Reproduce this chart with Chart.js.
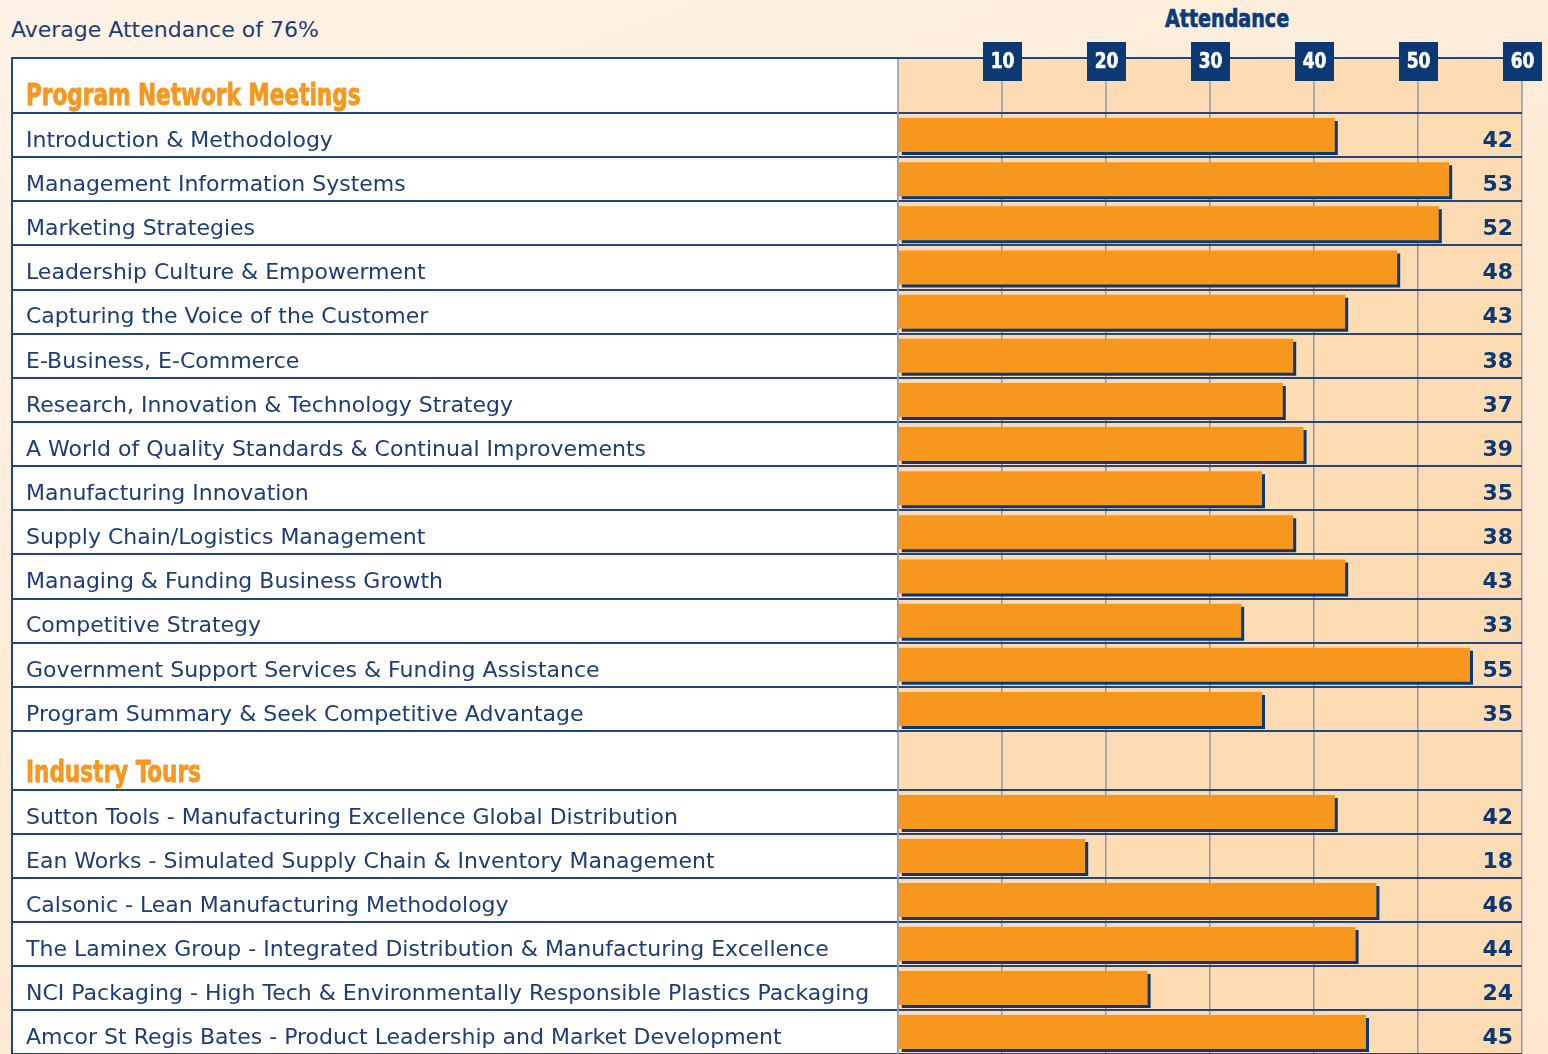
<!DOCTYPE html>
<html>
<head>
<meta charset="utf-8">
<title>Average Attendance</title>
<script src="https://cdn.jsdelivr.net/npm/chart.js@4.4.1/dist/chart.umd.min.js"></script>
<style>
  html, body { margin: 0; padding: 0; }
  body {
    width: 1548px; height: 1054px; overflow: hidden; position: relative;
    background: linear-gradient(160deg, #fef3e7 0%, #fdebd6 45%, #fde7cf 100%);
    font-family: "DejaVu Sans", Verdana, sans-serif;
  }
  #subtitle { position: absolute; left: 11px; top: 17px; font-size: 22px; color: #1c3d78; }
  #axisTitle {
    position: absolute; left: 1165px; top: 4px; color: #0d3a78;
    font: bold 25px "Liberation Sans Narrow", "DejaVu Sans Condensed", sans-serif;
    -webkit-text-stroke: 0.7px #0d3a78;
    transform: scaleX(0.85); transform-origin: left top;
  }
  canvas { position: absolute; left: 0; }
  #programChart { top: 0; }
  #tourChart { top: 731px; }
</style>
</head>
<body>
<div id="subtitle">Average Attendance of 76%</div>
<div id="axisTitle">Attendance</div>
<canvas id="programChart" width="1548" height="731"></canvas>
<canvas id="tourChart" width="1548" height="323"></canvas>
<script>
// data
const programLabels = [
    'Introduction & Methodology',
    'Management Information Systems',
    'Marketing Strategies',
    'Leadership Culture & Empowerment',
    'Capturing the Voice of the Customer',
    'E-Business, E-Commerce',
    'Research, Innovation & Technology Strategy',
    'A World of Quality Standards & Continual Improvements',
    'Manufacturing Innovation',
    'Supply Chain/Logistics Management',
    'Managing & Funding Business Growth',
    'Competitive Strategy',
    'Government Support Services & Funding Assistance',
    'Program Summary & Seek Competitive Advantage'
];
const programValues = [42, 53, 52, 48, 43, 38, 37, 39, 35, 38, 43, 33, 55, 35];

const tourLabels = [
    'Sutton Tools - Manufacturing Excellence Global Distribution',
    'Ean Works - Simulated Supply Chain & Inventory Management',
    'Calsonic - Lean Manufacturing Methodology',
    'The Laminex Group - Integrated Distribution & Manufacturing Excellence',
    'NCI Packaging - High Tech & Environmentally Responsible Plastics Packaging',
    'Amcor St Regis Bates - Product Leadership and Market Development'
];
const tourValues = [42, 18, 46, 44, 24, 45];

const axisMin = 0;
const axisMax = 60;
const axisStep = 10;

// styles
const NAVY = '#0c3874';
const TEXT = '#1c3d78';
const ORANGE = '#f7971e';
const PLOT_BG = '#fddcb4';
const GRID = '#8e98b1';
const ROW_LINE = '#22457f';
const TABLE_LEFT = 11;
const LABEL_FONT = '"DejaVu Sans", Verdana, sans-serif';
const NARROW_FONT = '"Liberation Sans Narrow", "DejaVu Sans Condensed", sans-serif';

// table frame, header row, tick boxes
function tablePlugin(title, headerTop, showTickBoxes) {
    return {
        id: 'tableFrame',
        beforeDraw(chart) {
            const { ctx, chartArea, scales: { x } } = chart;
            ctx.save();
            ctx.fillStyle = '#ffffff';
            ctx.fillRect(TABLE_LEFT, headerTop, chartArea.left - TABLE_LEFT, chartArea.bottom - headerTop);
            ctx.fillStyle = PLOT_BG;
            ctx.fillRect(chartArea.left, headerTop, chartArea.right - chartArea.left, chartArea.bottom - headerTop);
            // grid lines carried up through the header row
            ctx.strokeStyle = GRID;
            ctx.lineWidth = 1.5;
            x.ticks.forEach(t => {
                const px = x.getPixelForValue(t.value);
                ctx.beginPath();
                ctx.moveTo(px, headerTop);
                ctx.lineTo(px, chartArea.top);
                ctx.stroke();
            });
            ctx.restore();
        },
        afterDraw(chart) {
            const { ctx, chartArea, scales: { x } } = chart;
            ctx.save();
            ctx.strokeStyle = ROW_LINE;
            ctx.lineWidth = 2;
            ctx.beginPath();
            ctx.moveTo(TABLE_LEFT, headerTop + 1);
            ctx.lineTo(chartArea.right, headerTop + 1);
            ctx.moveTo(TABLE_LEFT + 1, headerTop);
            ctx.lineTo(TABLE_LEFT + 1, chartArea.bottom);
            ctx.stroke();

            // section heading, condensed and heavy
            ctx.save();
            ctx.translate(26, chartArea.top - 8);
            ctx.scale(0.8, 1);
            ctx.fillStyle = ORANGE;
            ctx.strokeStyle = ORANGE;
            ctx.lineWidth = 0.8;
            ctx.font = 'bold 30px ' + NARROW_FONT;
            ctx.textAlign = 'left';
            ctx.textBaseline = 'alphabetic';
            ctx.fillText(title, 0, 0);
            ctx.strokeText(title, 0, 0);
            ctx.restore();

            if (showTickBoxes) {
                ctx.font = 'bold 22px ' + NARROW_FONT;
                ctx.textAlign = 'center';
                ctx.textBaseline = 'middle';
                x.ticks.forEach(t => {
                    if (t.value === axisMin) return;
                    const px = x.getPixelForValue(t.value);
                    ctx.fillStyle = NAVY;
                    ctx.fillRect(px - 19, 42, 39, 39);
                    ctx.save();
                    ctx.translate(px + 0.5, 62);
                    ctx.scale(0.86, 1);
                    ctx.fillStyle = '#ffffff';
                    ctx.strokeStyle = '#ffffff';
                    ctx.lineWidth = 0.6;
                    ctx.fillText(String(t.value), 0, 0);
                    ctx.strokeText(String(t.value), 0, 0);
                    ctx.restore();
                });
            }
            ctx.restore();
        }
    };
}

const barShadow = {
    id: 'barShadow',
    beforeDatasetDraw(chart) {
        const ctx = chart.ctx;
        ctx.save();
        ctx.shadowColor = NAVY;
        ctx.shadowOffsetX = 3;
        ctx.shadowOffsetY = 3;
        ctx.shadowBlur = 0;
    },
    afterDatasetDraw(chart) {
        chart.ctx.restore();
    }
};

const valueLabels = {
    id: 'valueLabels',
    afterDatasetsDraw(chart) {
        const { ctx, chartArea } = chart;
        const values = chart.data.datasets[0].data;
        ctx.save();
        ctx.fillStyle = NAVY;
        ctx.font = 'bold 22px ' + LABEL_FONT;
        ctx.textAlign = 'right';
        ctx.textBaseline = 'middle';
        chart.getDatasetMeta(0).data.forEach((bar, i) => {
            ctx.fillText(String(values[i]), chartArea.right - 9, bar.y + 6);
        });
        ctx.restore();
    }
};

function buildChart(id, labels, values, title, headerTop, plotTop, showTickBoxes) {
    return new Chart(document.getElementById(id), {
        type: 'bar',
        data: {
            labels: labels,
            datasets: [{
                data: values,
                backgroundColor: ORANGE,
                borderWidth: 0,
                barPercentage: 1,
                categoryPercentage: 0.77
            }]
        },
        options: {
            indexAxis: 'y',
            responsive: false,
            animation: false,
            layout: { padding: { top: plotTop, left: 26, right: 26, bottom: 0 } },
            plugins: { legend: { display: false }, tooltip: { enabled: false } },
            scales: {
                x: {
                    position: 'top',
                    min: axisMin,
                    max: axisMax,
                    ticks: { display: false, stepSize: axisStep },
                    grid: { color: GRID, lineWidth: 1.5, drawTicks: false },
                    border: { display: false }
                },
                y: {
                    ticks: {
                        color: TEXT,
                        font: { family: LABEL_FONT, size: 22 },
                        crossAlign: 'far',
                        labelOffset: 6,
                        autoSkip: false
                    },
                    grid: { color: ROW_LINE, lineWidth: 2, offset: true, tickLength: 887 },
                    border: { color: GRID, width: 1.5 },
                    afterFit(scale) {
                        scale.width = 872;
                        scale.paddingTop = 0;
                        scale.paddingBottom = 0;
                    }
                }
            }
        },
        plugins: [tablePlugin(title, headerTop, showTickBoxes), barShadow, valueLabels]
    });
}

buildChart('programChart', programLabels, programValues, 'Program Network Meetings', 57, 113, true);
buildChart('tourChart', tourLabels, tourValues, 'Industry Tours', -1, 59, false);
</script>
</body>
</html>
